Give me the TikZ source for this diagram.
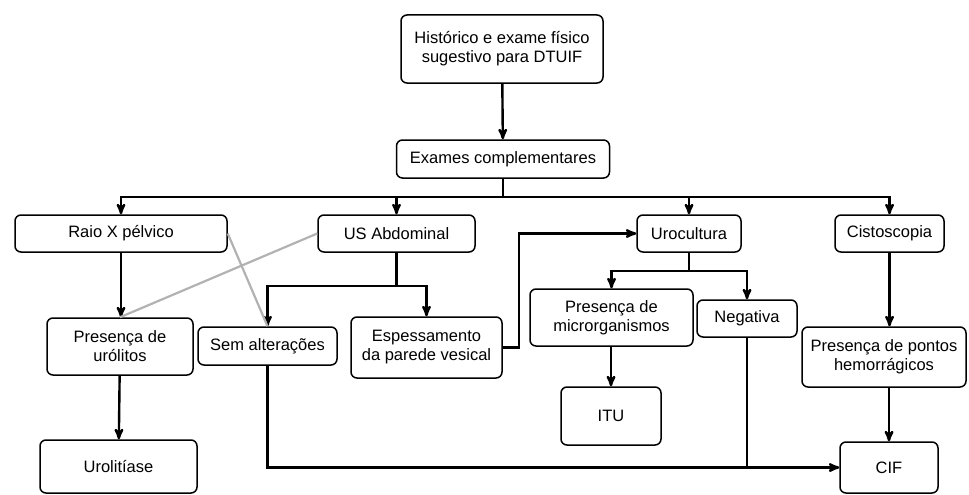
\documentclass[tikz,border=0pt]{standalone}
\usepackage{fontspec}
\setmainfont{Liberation Sans}
\usetikzlibrary{calc}
\usetikzlibrary{arrows}
\tikzset{
	>=stealth',
	caixa/.style={
		rectangle, 
		rounded corners=6pt, 
		% fill=black!10,
		draw=black, line width=1.5pt,
		align=center, 
		inner sep=2pt,
		font=\fontsize{16.5}{19}\selectfont},
	line/.style={draw, line width=2.4pt, ->},
	seta/.style={draw, line width=2.4pt},
	cinza/.style={draw=black!30, line width=2.2pt},
}

\begin{document}
\begin{tikzpicture}
		[x=1pt, y=-1pt]
		\useasboundingbox (0,0) rectangle (969,495);
		\node[caixa, minimum width=202pt, minimum height=68pt] (hist) at (502,49) {Histórico e exame físico\\sugestivo para DTUIF};
		\node[caixa, minimum width=213pt, minimum height=38pt] (exames) at (503,159) {Exames complementares};
		\node[caixa, minimum width=212pt, minimum height=37pt] (raio) at (121,233.5) {Raio X pélvico};
		\node[caixa, minimum width=157pt, minimum height=37pt] (us) at (396.5,233.5) {US Abdominal};
		\node[caixa, minimum width=104pt, minimum height=37pt] (uroc) at (689,233.5) {Urocultura};
		\node[caixa, minimum width=109pt, minimum height=37pt] (cisto) at (889.5,233.5) {Cistoscopia};
		\node[caixa, minimum width=146pt, minimum height=57pt] (urolitos) at (120,346.5) {Presença de\\urólitos};
		\node[caixa, minimum width=157pt, minimum height=53pt] (urolitiase) at (118.5,466.5) {Urolitíase};
		\node[caixa, minimum width=139pt, minimum height=38pt] (sem) at (267.5,346) {Sem alterações};
		\node[caixa, minimum width=151pt, minimum height=61pt] (esp) at (426.5,347.5) {Espessamento\\da parede vesical};
		\node[caixa, minimum width=163pt, minimum height=57pt] (micro) at (611.5,317.5) {Presença de\\microrganismos};
		\node[caixa, minimum width=100pt, minimum height=37pt] (neg) at (747,318.5) {Negativa};
		\node[caixa, minimum width=100pt, minimum height=58pt] (itu) at (611,416) {ITU};
		\node[caixa, minimum width=164pt, minimum height=60pt] (pontos) at (884,357) {Presença de pontos\\hemorrágicos};
		\node[caixa, minimum width=98pt, minimum height=51pt] (cif) at (889,467.5) {CIF};
	
		\coordinate (barra) at (0,197);
		\coordinate (ramous) at (0,286);
		\coordinate (ramouroc) at (0,271);
		\draw[line] (hist) -- (exames);
		\draw[seta] (exames.south) -- (exames.south |- barra);
		\foreach \alvo in {raio,us,uroc,cisto}
			\draw[line] (exames.south |- barra) -| (\alvo.north);
		\draw[line] (raio) -- (raio.south |- urolitos.north);
		\draw[line] (urolitos) -- (urolitiase);
		\draw[seta] (us.south) -- (us.south |- ramous);
		\foreach \alvo in {sem,esp}
			\draw[line] (us.south |- ramous) -| (\alvo.north);
		\draw[line] (esp.east) -- ++(16,0) |- (uroc.west);
		\draw[seta] (uroc.south) -- (uroc.south |- ramouroc);
		\foreach \alvo in {micro,neg}
			\draw[line] (uroc.south |- ramouroc) -| (\alvo.north);
		\draw[line] (micro.south -| itu) -- (itu.north);
		\draw[line] (cisto.south) -- (cisto.south |- pontos.north);
		\draw[line] (pontos.south -| cif) -- (cif.north);
		\draw[line] (sem.south) |- (cif.west);
		\draw[seta] (neg.south) -- (neg.south |- cif.west);
		\draw[cinza] (raio.east) -- (sem.north);
		\draw[cinza] (us.west) -- (urolitos.north);
		\end{tikzpicture}
\end{document}
